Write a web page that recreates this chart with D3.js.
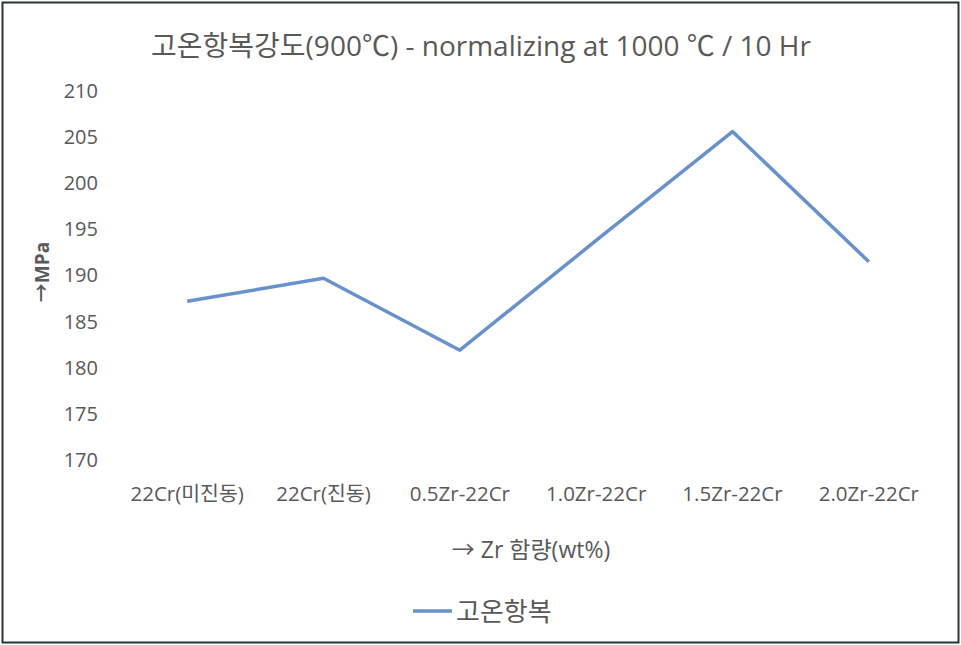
<!DOCTYPE html>
<html><head><meta charset="utf-8">
<script src="https://cdn.jsdelivr.net/npm/d3@7"></script>
<style>body{margin:0;background:#fff}svg{display:block}</style>
</head><body>
<script>
const categories = ["22Cr(미진동)", "22Cr(진동)", "0.5Zr-22Cr", "1.0Zr-22Cr", "1.5Zr-22Cr", "2.0Zr-22Cr"];
const values = [187.2, 189.7, 181.9, 193.8, 205.6, 191.5];
const yTicks = [170, 175, 180, 185, 190, 195, 200, 205, 210];
const seriesName = "고온항복";
const title = "고온항복강도(900℃) - normalizing at 1000 ℃ / 10 Hr";
const xTitle = "→ Zr 함량(wt%)";
const yTitle = "→MPa";

const W = 961, H = 645;
const font = "'Open Sans', 'Noto Sans CJK KR', sans-serif";
const svg = d3.select("body").append("svg").attr("width", W).attr("height", H);
svg.append("rect").attr("x", 2.5).attr("y", 2.5).attr("width", W - 5).attr("height", H - 5)
  .attr("fill", "#fff").attr("stroke", "#2c3631").attr("stroke-width", 2);

const x = d3.scaleBand().domain(categories).range([119, 937]);
const y = d3.scaleLinear().domain([170, 210]).range([460, 91]);

svg.append("text").attr("x", 481).attr("y", 56).attr("text-anchor", "middle")
  .attr("font-family", font).attr("font-size", 28).attr("fill", "#595959").text(title);

const ya = svg.append("g").attr("transform", "translate(119,0)")
  .call(d3.axisLeft(y).tickValues(yTicks).tickSize(0).tickPadding(21));
ya.select(".domain").remove();
ya.selectAll("text").attr("font-family", font).attr("font-size", 20).attr("fill", "#595959");

const xa = svg.append("g").attr("transform", "translate(0,482)")
  .call(d3.axisBottom(x).tickSize(0).tickPadding(4));
xa.select(".domain").remove();
xa.selectAll("text").attr("font-family", font).attr("font-size", 20.5).attr("fill", "#595959");

svg.append("text").attr("transform", "translate(49,272) rotate(-90)").attr("text-anchor", "middle")
  .attr("font-family", font).attr("font-size", 19).attr("font-weight", "bold").attr("fill", "#595959").text(yTitle);

svg.append("text").attr("x", 531).attr("y", 558).attr("text-anchor", "middle")
  .attr("font-family", font).attr("font-size", 23).attr("fill", "#595959").text(xTitle);

const line = d3.line().x((d, i) => x(categories[i]) + x.bandwidth() / 2).y(d => y(d));
svg.append("path").datum(values).attr("d", line).attr("fill", "none")
  .attr("stroke", "#6991cb").attr("stroke-width", 3.5).attr("stroke-linejoin", "round");

const lg = svg.append("g");
lg.append("line").attr("x1", 413).attr("x2", 452).attr("y1", 611).attr("y2", 611)
  .attr("stroke", "#6991cb").attr("stroke-width", 3.5);
lg.append("text").attr("x", 456).attr("y", 621).attr("font-family", font).attr("font-size", 26)
  .attr("fill", "#595959").text(seriesName);
</script>
</body></html>
